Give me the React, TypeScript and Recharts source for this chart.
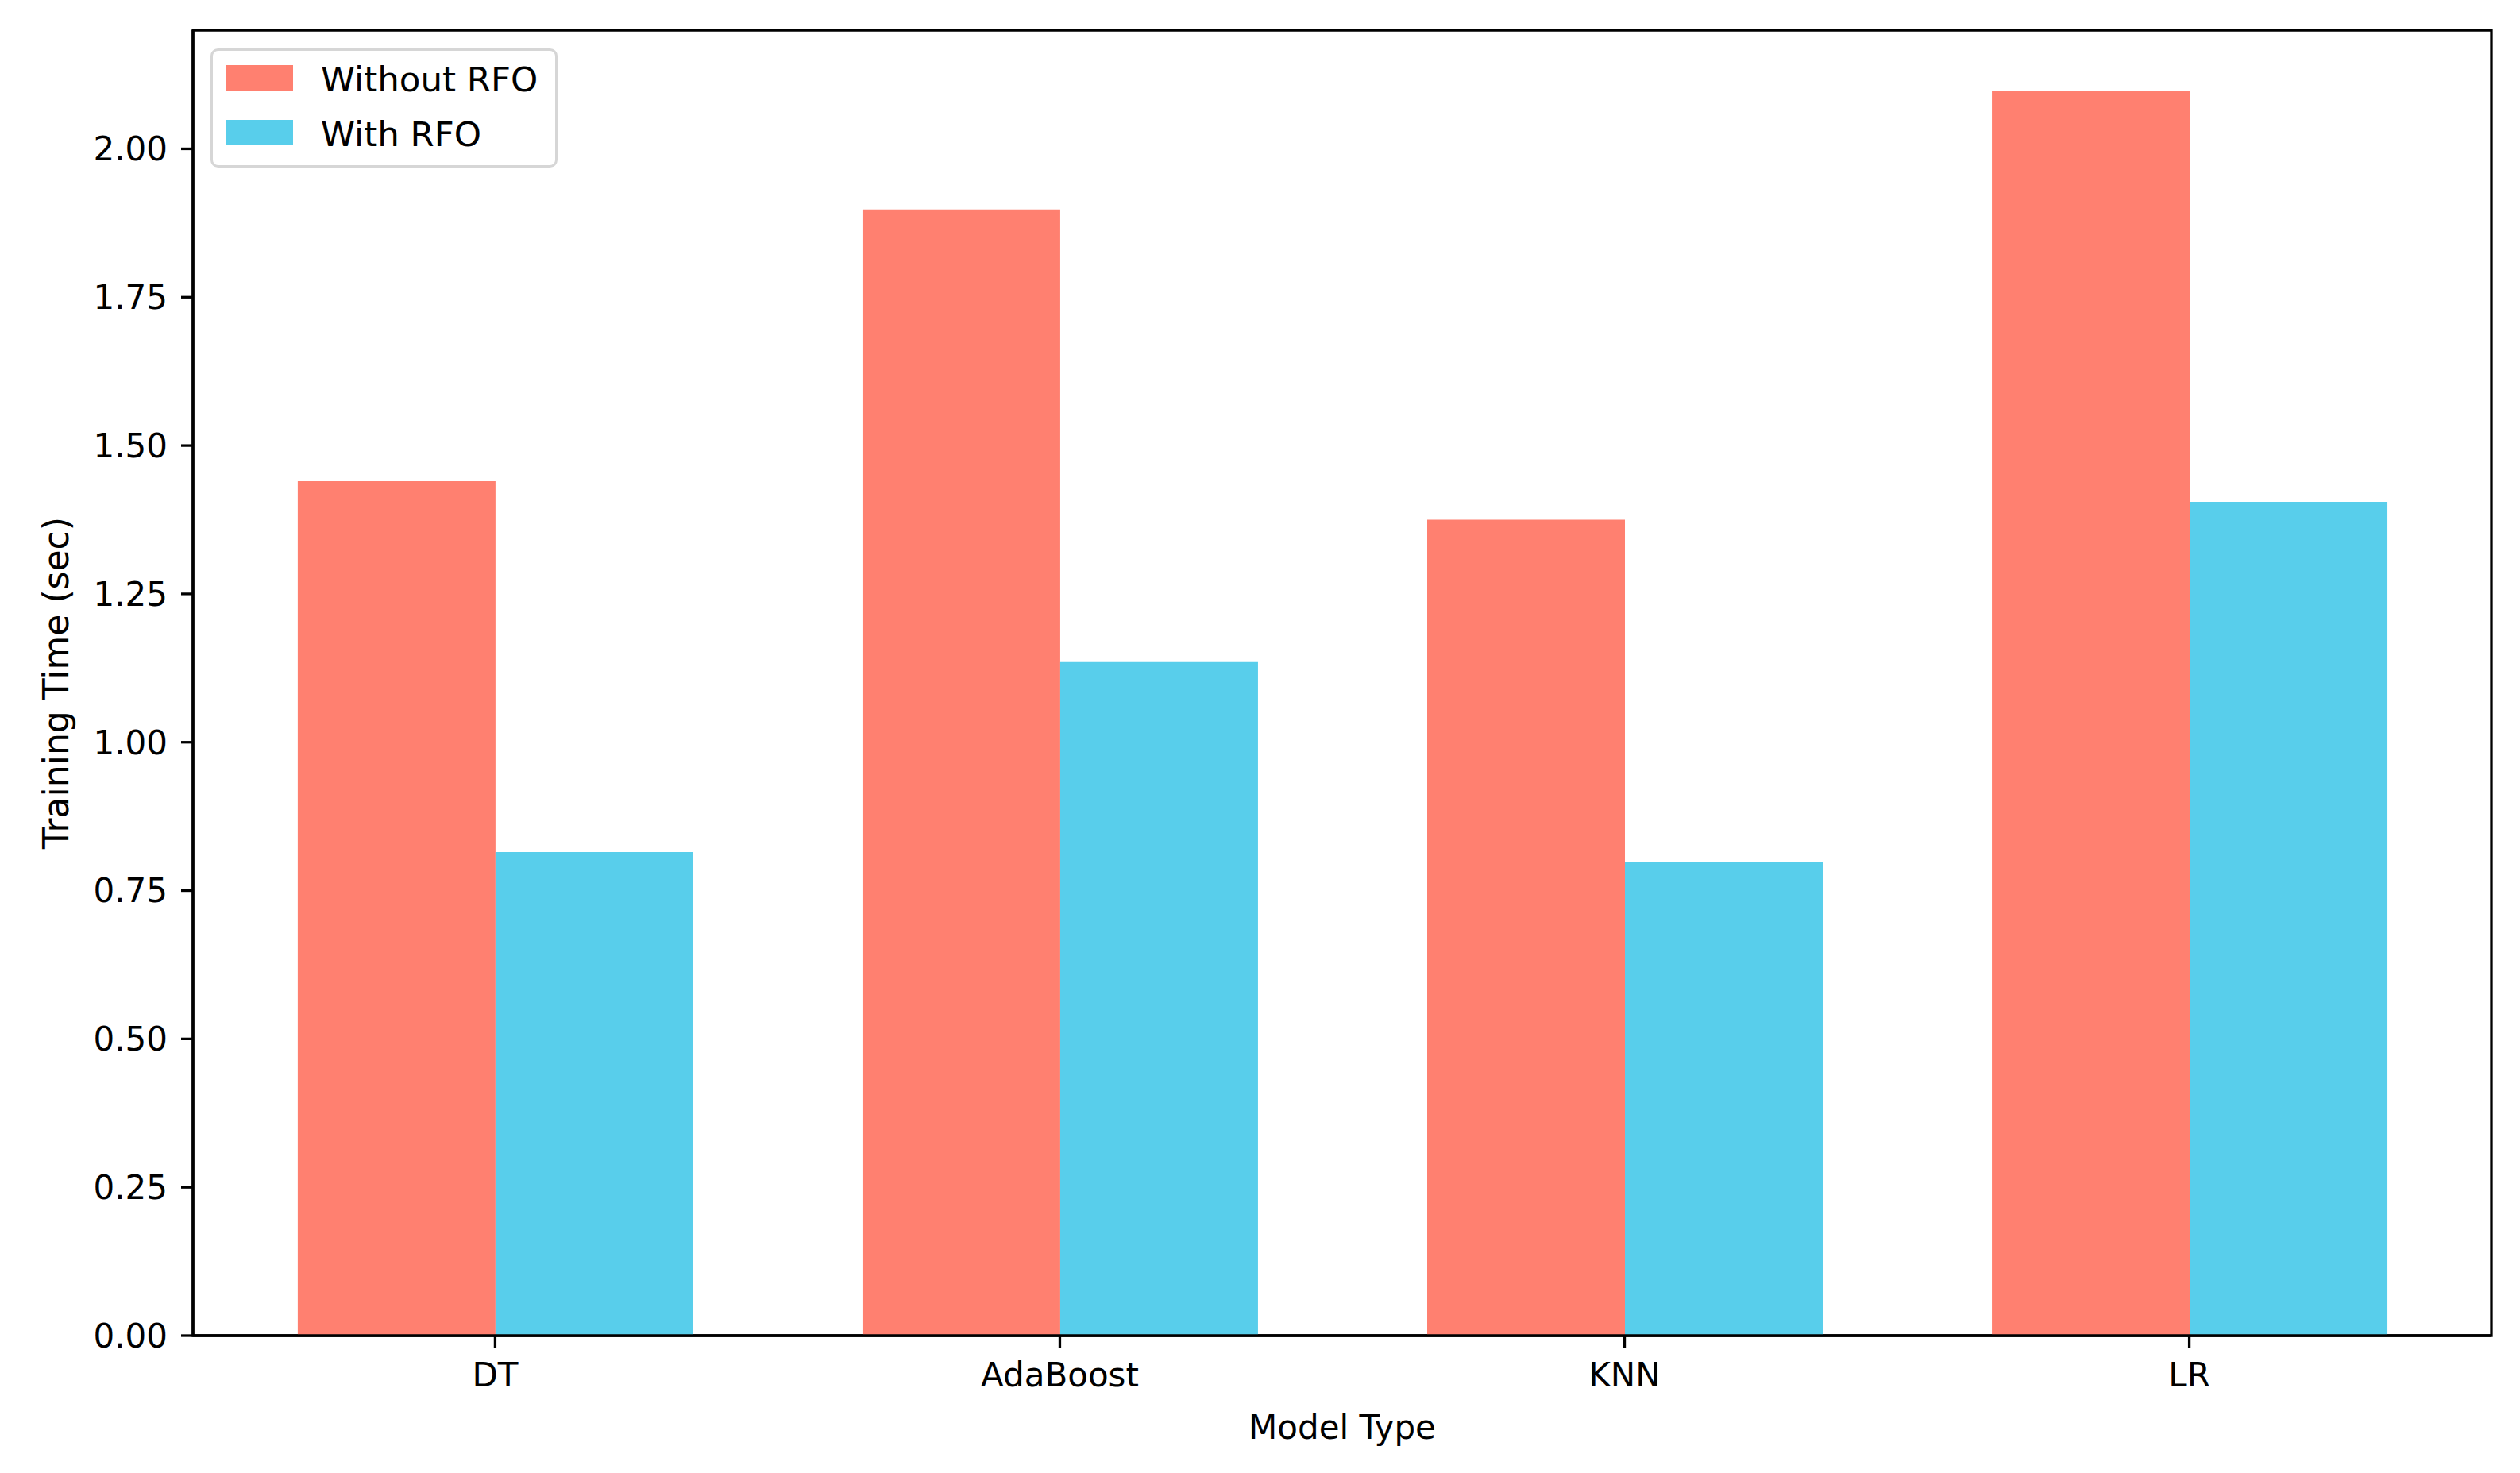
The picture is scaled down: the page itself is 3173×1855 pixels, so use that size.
import React from 'react';
import { BarChart, Bar, XAxis, YAxis, ReferenceArea } from 'recharts';

const categories = ['DT', 'AdaBoost', 'KNN', 'LR'];
const withoutRFO = [1.44, 1.898, 1.375, 2.098];
const withRFO = [0.815, 1.135, 0.799, 1.405];
const yTicks = [0, 0.25, 0.5, 0.75, 1.0, 1.25, 1.5, 1.75, 2.0];
const xTicks = [0, 1, 2, 3];
const seriesNames = ['Without RFO', 'With RFO'];
const seriesColors = ['#FF8070', '#58CEEB'];

const data = categories.map((c, i) => ({
  idx: i,
  name: c,
  without: withoutRFO[i],
  with: withRFO[i],
}));

const FONT = 'DejaVu Sans';
const FS = 42;
const SPINE = 3.3;

const LegendBox = () => (
  <svg width={437} height={150} style={{ display: 'block' }}>
    <rect x={1.5} y={1.5} width={434} height={147} rx={8} ry={8} fill="#ffffff" fillOpacity={0.8} stroke="#d6d6d6" strokeWidth={3} />
    {seriesNames.map((n, i) => (
      <g key={n}>
        <rect x={19} y={21 + i * 69} width={85} height={32} fill={seriesColors[i]} />
        <text x={139} y={54 + i * 69} fontFamily={FONT} fontSize={43.5} fill="#000">{n}</text>
      </g>
    ))}
  </svg>
);

const YLabel = (props: any) => {
  const vb = props.viewBox || { x: 0, y: 38, width: 243, height: 1644 };
  const x = vb.x + 86;
  const y = vb.y + vb.height / 2;
  return (
    <text x={x} y={y} transform={`rotate(-90, ${x}, ${y})`} textAnchor="middle" fontFamily={FONT} fontSize={44} fill="#000">
      Training Time (sec)
    </text>
  );
};

const XLabel = (props: any) => {
  const vb = props.viewBox || { x: 243, y: 1682, width: 2894, height: 173 };
  const x = vb.x + vb.width / 2;
  const y = vb.y + 130;
  return (
    <text x={x} y={y} textAnchor="middle" fontFamily={FONT} fontSize={FS} fill="#000">
      Model Type
    </text>
  );
};

export default function App() {
  return (
    <div style={{ width: 3173, height: 1855, background: '#fff', position: 'relative' }}>
      <style>{'body{margin:0;background:#fff;}'}</style>
      <BarChart
        width={3173}
        height={1855}
        data={data}
        margin={{ top: 38, right: 36, bottom: 0, left: 0 }}
        barGap={0}
        barSize={249}
      >
        <XAxis
          dataKey="idx"
          type="number"
          domain={[-0.535, 3.535]}
          allowDataOverflow
          ticks={xTicks}
          interval={0}
          tickFormatter={(v: number) => categories[v]}
          height={173}
          tickSize={15}
          tickMargin={19}
          axisLine={{ stroke: '#000', strokeWidth: SPINE }}
          tickLine={{ stroke: '#000', strokeWidth: SPINE }}
          tick={{ fill: '#000', fontSize: FS, fontFamily: FONT }}
          label={{ content: XLabel }}
        />
        <YAxis
          type="number"
          domain={[0, 2.2]}
          allowDataOverflow
          ticks={yTicks}
          interval={0}
          tickFormatter={(v: number) => v.toFixed(2)}
          width={243}
          tickSize={15}
          tickMargin={17}
          axisLine={{ stroke: '#000', strokeWidth: SPINE }}
          tickLine={{ stroke: '#000', strokeWidth: SPINE }}
          tick={{ fill: '#000', fontSize: FS, fontFamily: FONT }}
          label={{ content: YLabel }}
        />
        <Bar dataKey="without" name={seriesNames[0]} fill={seriesColors[0]} isAnimationActive={false} />
        <Bar dataKey="with" name={seriesNames[1]} fill={seriesColors[1]} isAnimationActive={false} />
        <ReferenceArea
          x1={-0.535}
          x2={3.535}
          y1={0}
          y2={2.2}
          fill="none"
          stroke="#000"
          strokeWidth={SPINE}
          ifOverflow="visible"
        />
      </BarChart>
      <div style={{ position: 'absolute', left: 265, top: 61, width: 437, height: 150 }}>
        <LegendBox />
      </div>
    </div>
  );
}
